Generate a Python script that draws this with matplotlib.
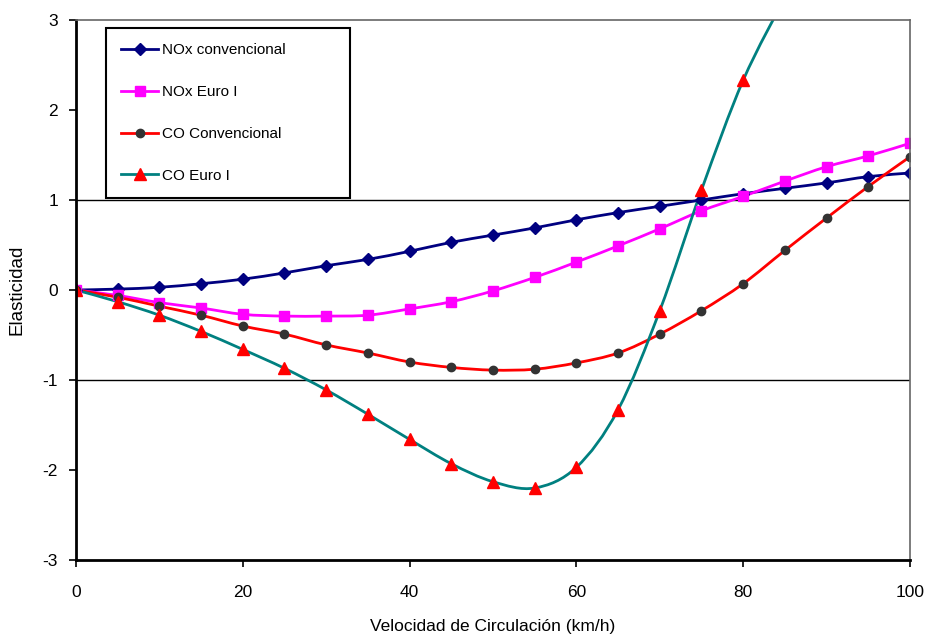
import matplotlib
matplotlib.use('Agg')
import matplotlib.pyplot as plt
from matplotlib.path import Path
from matplotlib.patches import PathPatch
from matplotlib.lines import Line2D
import numpy as np

plt.rcParams['font.family'] = ['Liberation Sans', 'DejaVu Sans']
plt.rcParams['axes.unicode_minus'] = False

# velocidad (km/h)
vel = [0, 5, 10, 15, 20, 25, 30, 35, 40, 45, 50, 55, 60, 65, 70, 75, 80, 85, 90, 95, 100]

nox_conv = [0, 0.01, 0.03, 0.07, 0.12, 0.19, 0.27, 0.34, 0.43, 0.53, 0.61, 0.69,
            0.78, 0.86, 0.93, 1.00, 1.07, 1.13, 1.19, 1.26, 1.30]
nox_euro = [0, -0.06, -0.14, -0.20, -0.27, -0.29, -0.29, -0.28, -0.21, -0.13, -0.01, 0.14,
            0.31, 0.49, 0.68, 0.88, 1.04, 1.21, 1.37, 1.49, 1.63]
co_conv = [0, -0.08, -0.18, -0.28, -0.40, -0.49, -0.61, -0.70, -0.80, -0.86, -0.89, -0.88,
           -0.81, -0.70, -0.49, -0.23, 0.07, 0.44, 0.80, 1.15, 1.48]
# CO Euro I sale del grafico por arriba despues de 80 km/h
vel_co_euro = [0, 5, 10, 15, 20, 25, 30, 35, 40, 45, 50, 55, 60, 65, 70, 75, 80, 85]
co_euro = [0, -0.13, -0.28, -0.46, -0.66, -0.87, -1.11, -1.38, -1.66, -1.93, -2.13, -2.20,
           -1.97, -1.33, -0.23, 1.11, 2.33, 3.25]

labels = ['NOx convencional', 'NOx Euro I', 'CO Convencional', 'CO Euro I']


def smooth_path(x, y):
    # excel-style smoothed line: cubic bezier through every point
    p = np.column_stack([x, y]).astype(float)
    n = len(p)
    verts = [p[0]]
    codes = [Path.MOVETO]
    for i in range(n - 1):
        prev = p[i - 1] if i > 0 else p[i]
        nxt = p[i + 2] if i + 2 < n else p[i + 1]
        c1 = p[i] + (p[i + 1] - prev) / 6.0
        c2 = p[i + 1] - (nxt - p[i]) / 6.0
        verts += [c1, c2, p[i + 1]]
        codes += [Path.CURVE4] * 3
    return Path(verts, codes)


fig = plt.figure(figsize=(9.31, 6.35), dpi=100)
ax = fig.add_axes([0.0816, 0.1181, 0.8958, 0.8504])

series = [
    (vel, nox_conv, '#000080', 'D', '#000080', 6.5),
    (vel, nox_euro, '#FF00FF', 's', '#FF00FF', 7.5),
    (vel, co_conv, '#FF0000', 'o', '#333333', 6),
    (vel_co_euro, co_euro, '#008080', '^', '#FF0000', 8),
]

handles = []
for (x, y, lc, mk, mc, ms), lab in zip(series, labels):
    ax.add_patch(PathPatch(smooth_path(x, y), fill=False, edgecolor=lc, lw=2.0))
    ax.plot(x, y, ls='none', marker=mk, color=mc, ms=ms, mec=mc)
    handles.append(Line2D([], [], color=lc, lw=2.0, marker=mk, mfc=mc, mec=mc, ms=ms))

ax.axhline(1, color='black', lw=1.0, zorder=0.5)
ax.axhline(-1, color='black', lw=1.0, zorder=0.5)

ax.set_xlim(0, 100)
ax.set_ylim(-3, 3)
ax.set_xticks([0, 20, 40, 60, 80, 100])
ax.set_yticks([-3, -2, -1, 0, 1, 2, 3])
ax.tick_params(axis='both', labelsize=12.5, direction='out', length=5, width=1.2)
ax.tick_params(axis='x', pad=13)
ax.tick_params(axis='y', pad=8)

for s in ['left', 'bottom']:
    ax.spines[s].set_color('black')
    ax.spines[s].set_linewidth(2.0)
for s in ['top', 'right']:
    ax.spines[s].set_color('#666666')
    ax.spines[s].set_linewidth(1.2)

ax.set_xlabel('Velocidad de Circulación (km/h)', fontsize=12.5, labelpad=14)
ax.set_ylabel('Elasticidad', fontsize=13.5, labelpad=12)

leg = ax.legend(handles, labels, loc='upper left', bbox_to_anchor=(0.036, 0.678, 0.2925, 0.307),
                mode='expand', fontsize=11, labelspacing=1.82, handlelength=2.4,
                handletextpad=0.25, borderpad=1.0, borderaxespad=0, fancybox=False,
                framealpha=1)
leg.get_frame().set_edgecolor('black')
leg.get_frame().set_linewidth(1.5)

plt.savefig('out.png', dpi=100)
